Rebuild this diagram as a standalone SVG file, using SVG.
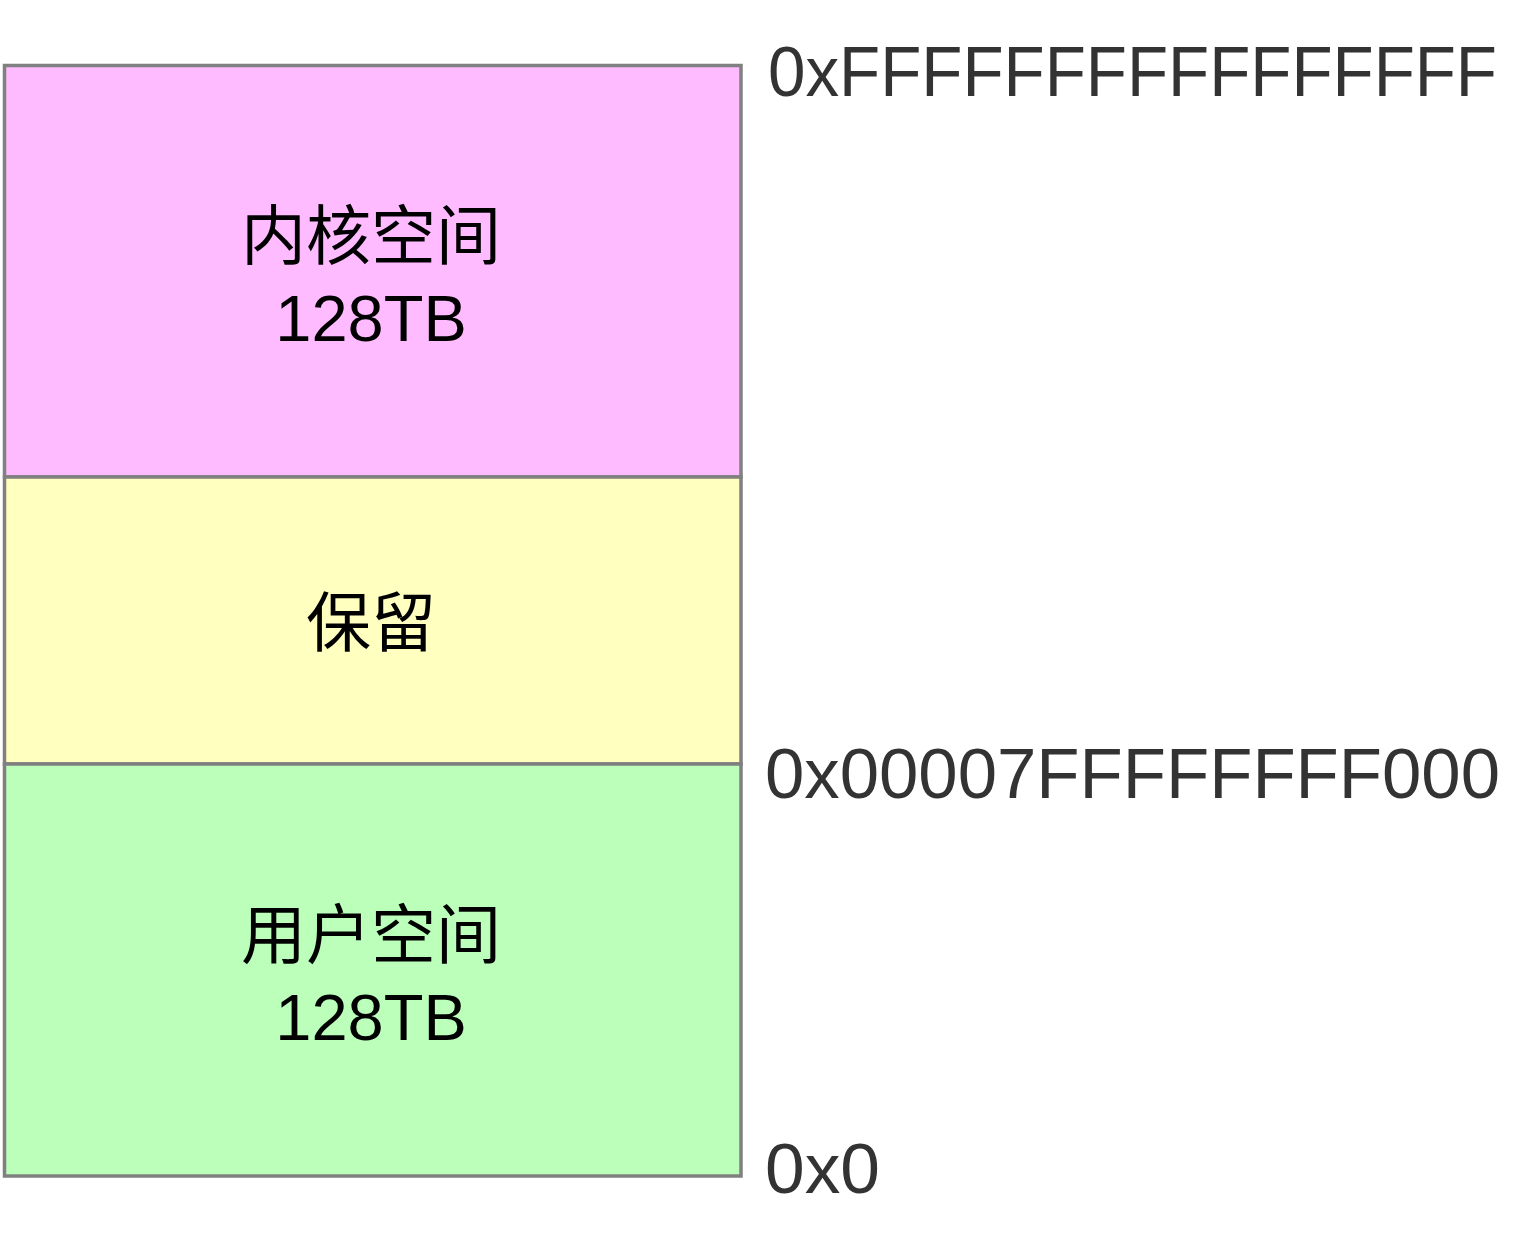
<svg xmlns="http://www.w3.org/2000/svg" width="1529" height="1241" viewBox="0 0 1529 1241">
<style>
.box{stroke:#808080;stroke-width:3.5}
.lbl{font-family:"Liberation Sans","Noto Sans CJK SC",sans-serif;font-size:65px;fill:#000;text-anchor:middle}
.addr{font-family:"Liberation Sans",sans-serif;font-size:70px;fill:#333333}
</style>
<rect width="1529" height="1241" fill="#ffffff"/>
<g id="kernel">
<rect class="box" x="4.5" y="65.5" width="736.5" height="411.5" fill="#FFBBFF"/>
<text class="lbl" x="371" y="259">内核空间</text>
<text class="lbl" x="371" y="341">128TB</text>
</g>
<g id="reserved">
<rect class="box" x="4.5" y="477" width="736.5" height="287" fill="#FFFFC0"/>
<text class="lbl" x="371" y="646">保留</text>
</g>
<g id="user">
<rect class="box" x="4.5" y="764" width="736.5" height="412" fill="#BBFFBB"/>
<text class="lbl" x="371" y="958">用户空间</text>
<text class="lbl" x="371" y="1040">128TB</text>
</g>
<g id="labels">
<text class="addr" x="768" y="96" textLength="729" lengthAdjust="spacingAndGlyphs">0xFFFFFFFFFFFFFFFF</text>
<text class="addr" x="765" y="798" textLength="735" lengthAdjust="spacingAndGlyphs">0x00007FFFFFFFF000</text>
<text class="addr" x="765" y="1193" textLength="115" lengthAdjust="spacingAndGlyphs">0x0</text>
</g>
<g id="connectors"></g>
</svg>
